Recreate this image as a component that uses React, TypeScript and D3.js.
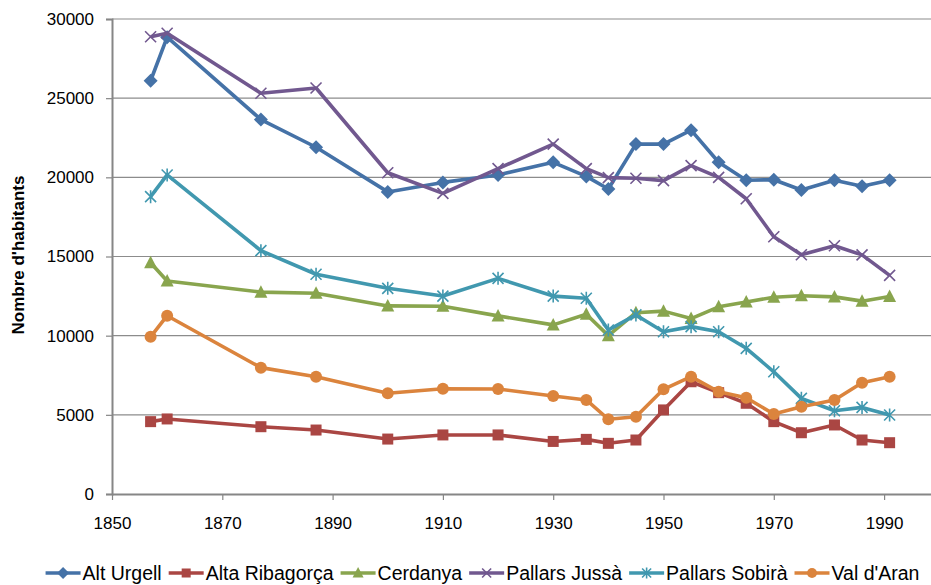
import React, { useRef, useEffect } from 'react';
import * as d3 from 'd3';

const years = [1857, 1860, 1877, 1887, 1900, 1910, 1920, 1930, 1936, 1940, 1945, 1950, 1955, 1960, 1965, 1970, 1975, 1981, 1986, 1991];

const altUrgell = [26100, 28850, 23650, 21900, 19080, 19680, 20150, 20950, 20060, 19260, 22100, 22100, 22980, 20950, 19820, 19850, 19200, 19820, 19440, 19820];
const altaRibagorca = [4570, 4740, 4250, 4040, 3470, 3730, 3730, 3320, 3450, 3200, 3410, 5310, 7090, 6400, 5730, 4570, 3870, 4360, 3410, 3240];
const cerdanya = [14600, 13450, 12750, 12680, 11880, 11860, 11250, 10680, 11350, 10000, 11450, 11550, 11080, 11820, 12130, 12430, 12520, 12450, 12180, 12480];
const pallarsJussa = [28880, 29100, 25310, 25640, 20290, 18990, 20550, 22100, 20550, 19980, 19940, 19790, 20740, 20000, 18650, 16250, 15110, 15680, 15100, 13810];
const pallarsSobira = [18780, 20150, 15370, 13880, 12990, 12500, 13620, 12500, 12360, 10360, 11310, 10250, 10570, 10250, 9200, 7720, 6040, 5260, 5470, 4990];
const valDAran = [9930, 11260, 7980, 7410, 6360, 6650, 6630, 6190, 5940, 4720, 4880, 6610, 7410, 6460, 6080, 5050, 5510, 5940, 7030, 7410];

const seriesNames = ["Alt Urgell", "Alta Ribagorça", "Cerdanya", "Pallars Jussà", "Pallars Sobirà", "Val d'Aran"];
const seriesValues = [altUrgell, altaRibagorca, cerdanya, pallarsJussa, pallarsSobira, valDAran];
const colors = ["#4572A7", "#AA4643", "#89A54E", "#71588F", "#4198AF", "#DB843D"];
const markers = ["diamond", "square", "triangle", "cross", "star", "circle"];

const xTicks = [1850, 1870, 1890, 1910, 1930, 1950, 1970, 1990];
const yTicks = [0, 5000, 10000, 15000, 20000, 25000, 30000];

const FONT = "'Liberation Sans', Arial, sans-serif";

const drawMarker = (g: any, type: string, color: string, size: number) => {
  const s = size / 2;
  if (type === "diamond") {
    g.append("path").attr("d", `M0,${-s - 1.5}L${s + 1.5},0L0,${s + 1.5}L${-s - 1.5},0Z`).attr("fill", color);
  } else if (type === "square") {
    g.append("rect").attr("x", -s).attr("y", -s).attr("width", size).attr("height", size).attr("fill", color);
  } else if (type === "triangle") {
    g.append("path").attr("d", `M0,${-s - 1.5}L${s + 1},${s}L${-s - 1},${s}Z`).attr("fill", color);
  } else if (type === "circle") {
    g.append("circle").attr("r", s + 0.5).attr("fill", color);
  } else if (type === "cross") {
    g.append("path").attr("d", `M${-s},${-s}L${s},${s}M${-s},${s}L${s},${-s}`)
      .attr("stroke", color).attr("stroke-width", 1.6).attr("fill", "none");
  } else if (type === "star") {
    g.append("path").attr("d", `M${-s},${-s}L${s},${s}M${-s},${s}L${s},${-s}M0,${-s - 1}L0,${s + 1}`)
      .attr("stroke", color).attr("stroke-width", 1.6).attr("fill", "none");
  }
};

const App: React.FC = () => {
  const svgRef = useRef<SVGSVGElement | null>(null);

  useEffect(() => {
    const svg = d3.select(svgRef.current);
    svg.selectAll("*").remove();

    const width = 931;
    const height = 585;
    const margin = { top: 19, left: 112, bottom: 91 };
    const plotBottom = height - margin.bottom;

    svg.attr("width", width).attr("height", height);

    const x = d3.scaleLinear().domain([1850, 2000]).range([margin.left, margin.left + 5.515 * 150]);
    const y = d3.scaleLinear().domain([0, 30000]).range([plotBottom, margin.top]);

    // Gridlines
    svg.append("g")
      .selectAll("line")
      .data(yTicks.filter(d => d > 0))
      .join("line")
      .attr("x1", margin.left)
      .attr("x2", x(2000))
      .attr("y1", d => y(d))
      .attr("y2", d => y(d))
      .attr("stroke", "#8c8c8c")
      .attr("stroke-width", 1.2);

    // Y axis
    const yAxis = svg.append("g")
      .attr("transform", `translate(${margin.left},0)`)
      .call(d3.axisLeft(y).tickValues(yTicks).tickSize(6).tickPadding(12).tickFormat(d3.format("d")));
    yAxis.select(".domain").attr("stroke", "#868686").attr("stroke-width", 2);
    yAxis.selectAll(".tick line").attr("stroke", "#868686").attr("stroke-width", 1.2);
    yAxis.selectAll("text").attr("font-family", FONT).attr("font-size", 17).attr("fill", "#000");

    // X axis
    const xAxis = svg.append("g")
      .attr("transform", `translate(0,${plotBottom})`)
      .call(d3.axisBottom(x).tickValues(xTicks).tickSize(6).tickPadding(17).tickFormat(d3.format("d")).tickSizeOuter(0));
    xAxis.select(".domain").attr("stroke", "#868686").attr("stroke-width", 2);
    xAxis.selectAll(".tick line").attr("stroke", "#868686").attr("stroke-width", 1.2);
    xAxis.selectAll("text").attr("font-family", FONT).attr("font-size", 17).attr("fill", "#000");

    // Series
    const line = d3.line<number>()
      .x((_, i) => x(years[i]))
      .y(d => y(d));

    seriesValues.forEach((vals, si) => {
      const g = svg.append("g");
      g.append("path")
        .datum(vals)
        .attr("d", line)
        .attr("fill", "none")
        .attr("stroke", colors[si])
        .attr("stroke-width", 3.6)
        .attr("stroke-linejoin", "round");
      vals.forEach((v, i) => {
        const mg = g.append("g").attr("transform", `translate(${x(years[i])},${y(v)})`);
        drawMarker(mg, markers[si], colors[si], 11);
      });
    });

    // Y axis title
    svg.append("text")
      .attr("transform", `translate(24,${255}) rotate(-90)`)
      .attr("text-anchor", "middle")
      .attr("font-family", FONT)
      .attr("font-weight", "bold")
      .attr("font-size", 17)
      .text("Nombre d'habitants");

    // Legend
    const legend = svg.append("g");
    let cx = 0;
    seriesNames.forEach((name, i) => {
      const g = legend.append("g");
      g.append("line").attr("x1", 0).attr("x2", 35).attr("y1", 0).attr("y2", 0)
        .attr("stroke", colors[i]).attr("stroke-width", 3.6);
      const mg = g.append("g").attr("transform", "translate(17.5,0)");
      drawMarker(mg, markers[i], colors[i], 9);
      const t = g.append("text").attr("x", 37).attr("y", 7)
        .attr("font-family", FONT).attr("font-size", 19.5).text(name);
      const w = 37 + (t.node() as SVGTextElement).getComputedTextLength();
      g.attr("transform", `translate(${cx},0)`);
      cx += w + 7;
    });
    const total = cx - 7;
    legend.attr("transform", `translate(${(40 + 925 - total) / 2},573)`);
  }, []);

  return (
    <div style={{ position: 'absolute', left: 0, top: 0 }}>
      <svg ref={svgRef} style={{ display: 'block' }}></svg>
    </div>
  );
};

export default App;
